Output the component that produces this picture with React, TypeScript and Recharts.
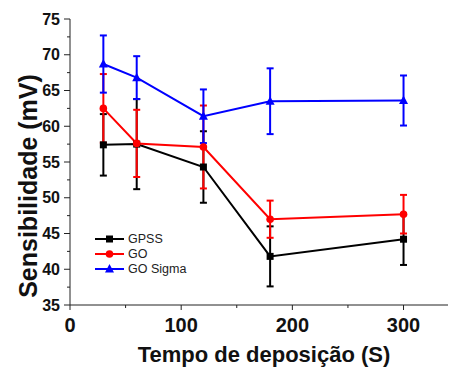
import React from 'react';
import { LineChart, Line, XAxis, YAxis, ErrorBar, Legend } from 'recharts';

// tempo de deposição (s)
const times = [30, 60, 120, 180, 300];

const gpss = [57.4, 57.5, 54.3, 41.8, 44.2];
const gpssErr = [4.3, 6.3, 5.0, 4.2, 3.6];
const go = [62.5, 57.6, 57.1, 47.0, 47.7];
const goErr = [4.8, 4.7, 5.8, 2.6, 2.7];
const goSigma = [68.7, 66.8, 61.4, 63.5, 63.6];
const goSigmaErr = [4.0, 3.0, 3.75, 4.6, 3.5];

const xTicks = [0, 50, 100, 150, 200, 250, 300];
const yTicks = [35, 37.5, 40, 42.5, 45, 47.5, 50, 52.5, 55, 57.5, 60, 62.5, 65, 67.5, 70, 72.5, 75];

const data = times.map((t, i) => ({
  t,
  gpss: gpss[i],
  gpssErr: gpssErr[i],
  go: go[i],
  goErr: goErr[i],
  goSigma: goSigma[i],
  goSigmaErr: goSigmaErr[i],
}));

const FONT = '"Liberation Sans", Arial, sans-serif';
const AXIS = '#222';

type Shape = 'square' | 'circle' | 'triangle';

const marker = (shape: Shape, cx: number, cy: number, color: string, key?: any) => {
  if (shape === 'square') return <rect key={key} x={cx - 3.5} y={cy - 3.5} width={7} height={7} fill={color} />;
  if (shape === 'circle') return <circle key={key} cx={cx} cy={cy} r={3.8} fill={color} />;
  return <polygon key={key} points={`${cx},${cy - 5} ${cx - 4.5},${cy + 3.5} ${cx + 4.5},${cy + 3.5}`} fill={color} />;
};

const series = [
  { key: 'gpss', err: 'gpssErr', name: 'GPSS', color: '#000000', shape: 'square' as Shape },
  { key: 'go', err: 'goErr', name: 'GO', color: '#ff0000', shape: 'circle' as Shape },
  { key: 'goSigma', err: 'goSigmaErr', name: 'GO Sigma', color: '#0000ff', shape: 'triangle' as Shape },
];

const XTick = (p: any) => {
  const { x, y, payload } = p;
  const major = payload.value % 100 === 0;
  return (
    <g>
      <line x1={x} x2={x} y1={y} y2={y + (major ? 5 : 3)} stroke={AXIS} />
      {major && (
        <text x={x} y={y + 27} textAnchor="middle" fontFamily={FONT} fontWeight="bold" fontSize={20} fill="#111">
          {payload.value}
        </text>
      )}
    </g>
  );
};

const YTick = (p: any) => {
  const { x, y, payload } = p;
  const major = payload.value % 5 === 0;
  return (
    <g>
      <line x1={x - (major ? 6 : 3)} x2={x} y1={y} y2={y} stroke={AXIS} />
      {major && (
        <text x={x - 10} y={y + 5.5} textAnchor="end" fontFamily={FONT} fontWeight="bold" fontSize={16} fill="#111">
          {payload.value}
        </text>
      )}
    </g>
  );
};

// y title sits a bit below the plot centre, as in the original figure
const YTitle = (p: any) => {
  const { viewBox } = p;
  const cx = viewBox.x + 28;
  const cy = viewBox.y + viewBox.height / 2 + 24;
  return (
    <text
      transform={`translate(${cx}, ${cy}) rotate(-90)`}
      textAnchor="middle"
      dominantBaseline="central"
      fontFamily={FONT}
      fontWeight="bold"
      fontSize={25}
      fill="#111"
    >
      Sensibilidade (mV)
    </text>
  );
};

const LegendBox = () => (
  <div style={{ fontFamily: FONT, fontSize: 12.5, color: '#222' }}>
    {series.map((s) => (
      <div key={s.key} style={{ display: 'flex', alignItems: 'center', height: 15 }}>
        <svg width={33} height={12}>
          <line x1={0} x2={29} y1={6} y2={6} stroke={s.color} strokeWidth={2} />
          {marker(s.shape, 14.5, 6, s.color)}
        </svg>
        <span>{s.name}</span>
      </div>
    ))}
  </div>
);

export default function App() {
  return (
    <div style={{ position: 'absolute', left: 0, top: 0, background: '#fff' }}>
      <LineChart width={450} height={367} data={data} margin={{ top: 19, right: 2, left: 0, bottom: 0 }}>
        <XAxis
          dataKey="t"
          type="number"
          domain={[0, 340]}
          ticks={xTicks}
          interval={0}
          height={62}
          tickSize={0}
          tickMargin={0}
          tickLine={false}
          tick={<XTick />}
          axisLine={{ stroke: AXIS }}
          label={{
            value: 'Tempo de deposição (S)',
            position: 'insideBottom',
            offset: 5,
            dx: 5,
            style: { fontFamily: FONT, fontWeight: 'bold', fontSize: 22, fill: '#111' },
          }}
        />
        <YAxis
          type="number"
          domain={[35, 75]}
          ticks={yTicks}
          interval={0}
          width={70}
          tickSize={0}
          tickMargin={0}
          tickLine={false}
          tick={<YTick />}
          axisLine={{ stroke: AXIS }}
          label={<YTitle />}
        />
        <Legend
          layout="vertical"
          align="center"
          verticalAlign="middle"
          content={<LegendBox />}
          wrapperStyle={{ left: 95, top: 231, width: 'auto' }}
        />
        {series.map((s) => (
          <Line
            key={s.key}
            dataKey={s.key}
            name={s.name}
            type="linear"
            stroke={s.color}
            strokeWidth={2}
            isAnimationActive={false}
            dot={(p: any) => marker(s.shape, p.cx, p.cy, s.color, p.index)}
            activeDot={false}
          >
            <ErrorBar dataKey={s.err} width={3.5} stroke={s.color} strokeWidth={2} isAnimationActive={false} />
          </Line>
        ))}
      </LineChart>
    </div>
  );
}
